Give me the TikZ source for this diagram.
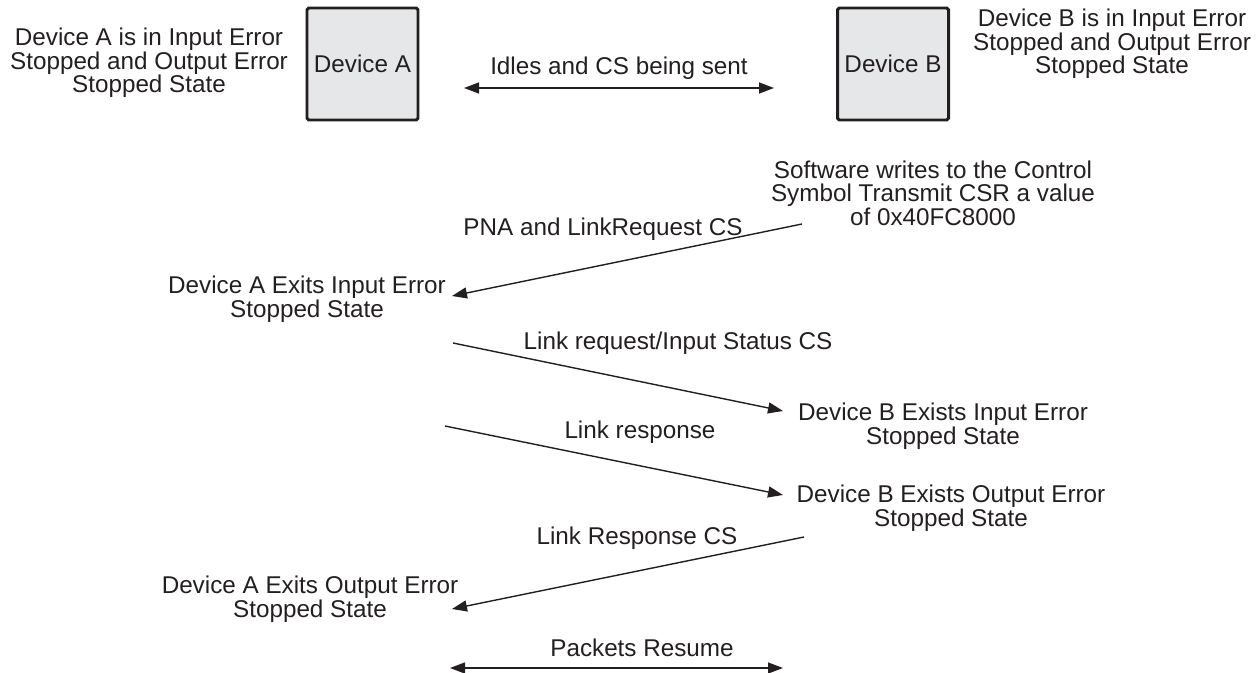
\documentclass[tikz,border=0pt]{standalone}
\usepackage{fontspec}
\setmainfont{Liberation Sans}
\usepackage{tikz}
\usetikzlibrary{arrows.meta,positioning}
\definecolor{ink}{HTML}{231F20}
\definecolor{boxgray}{HTML}{E6E7E8}
\tikzset{
  dev/.style={draw=ink,line width=1.7pt,fill=boxgray,rounded corners=1pt,minimum width=2.22cm,minimum height=2.24cm,inner sep=0pt},
  txt/.style={align=center,inner sep=0pt,text=ink,font=\fontsize{13.8}{13.4}\selectfont},
  msg/.style={draw=ink,line width=0.8pt,-{Triangle[length=3mm,width=2.2mm]}},
  both/.style={draw=ink,line width=0.8pt,{Triangle[length=3mm,width=2.2mm]}-{Triangle[length=3mm,width=2.2mm]}},
}
\begin{document}
\begin{tikzpicture}
  \useasboundingbox (0,0) rectangle (25.2,-13.46);
  % devices and their start states
  \node[dev,txt] (devA) at (7.25,-1.28){Device A};
  \node[dev,txt] (devB) at (17.86,-1.28){Device B};
  \node[txt] (stA) at (2.98,-1.26){Device A is in Input Error\\Stopped and Output Error\\Stopped State};
  \node[txt] (stB) at (22.24,-0.88){Device B is in Input Error\\Stopped and Output Error\\Stopped State};
  % idle link
  \coordinate (i1) at (9.28,-1.76);
  \coordinate (i2) at (15.48,-1.76);
  \draw[both] (i1)--(i2);
  \node[txt] (idle) at (12.38,-1.36){Idles and CS being sent};
  % software write
  \node[txt] (sw) at (18.66,-3.86){Software writes to the Control\\Symbol Transmit CSR a value\\of 0x40FC8000};
  \coordinate (m1s) at (16.04,-4.48);
  \coordinate (m1e) at (9.04,-5.92);
  \draw[msg] (m1s)--(m1e);
  \node[txt] (l1) at (12.06,-4.58){PNA and LinkRequest CS};
  \node[txt] (exA1) at (6.14,-5.99){Device A Exits Input Error\\Stopped State};
  % link request
  \coordinate (m2s) at (9.06,-6.86);
  \coordinate (m2e) at (15.66,-8.22);
  \draw[msg] (m2s)--(m2e);
  \node[txt] (l2) at (13.56,-6.86){Link request/Input Status CS};
  \node[txt] (exB1) at (18.86,-8.52){Device B Exists Input Error\\Stopped State};
  % link response
  \coordinate (m3s) at (8.9,-8.52);
  \coordinate (m3e) at (15.66,-9.9);
  \draw[msg] (m3s)--(m3e);
  \node[txt] (l3) at (12.8,-8.64){Link response};
  \node[txt] (exB2) at (19.02,-10.16){Device B Exists Output Error\\Stopped State};
  % link response CS back to A
  \coordinate (m4s) at (16.08,-10.74);
  \coordinate (m4e) at (9.04,-12.18);
  \draw[msg] (m4s)--(m4e);
  \node[txt] (l4) at (12.74,-10.76){Link Response CS};
  \node[txt] (exA2) at (6.2,-11.98){Device A Exits Output Error\\Stopped State};
  % packets
  \coordinate (p1) at (9.0,-13.36);
  \coordinate (p2) at (15.66,-13.36);
  \draw[both] (p1)--(p2);
  \node[txt] (pk) at (12.84,-12.96){Packets Resume};
\end{tikzpicture}
\end{document}
